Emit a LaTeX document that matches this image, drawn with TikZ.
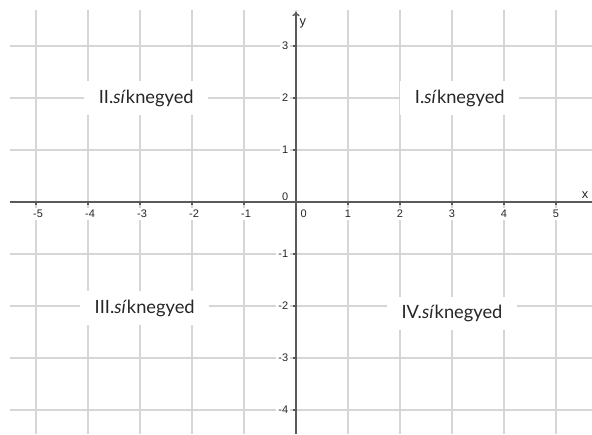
\documentclass[tikz,border=0pt]{standalone}
\usepackage{fontspec}
\setmainfont{Lato}
\newfontfamily\tickfont{Liberation Sans}
\usetikzlibrary{arrows.meta}
\definecolor{gridgray}{HTML}{D6D6D6}
\definecolor{axisgray}{HTML}{5A5A5A}
\tikzset{
  gridline/.style={line width=0.6pt, gridgray},
  axisline/.style={line width=0.8pt, axisgray},
  ticklabel/.style={font=\tickfont\fontsize{6}{7}\selectfont, text=black!85, fill=white, inner sep=1.2pt},
  quadlabel/.style={font=\fontsize{10}{12}\selectfont, text=black!85, fill=white, inner xsep=8pt, inner ysep=4.5pt}
}
\begin{document}
\begin{tikzpicture}
 \useasboundingbox (-5.692,-4.462) rectangle (5.692,3.885);
 \fill[white] (-5.692,-4.462) rectangle (5.692,3.885);

 % grid
 \draw[gridline] (-5.5,-4.47) grid (5.7,3.7);

 % quadrant names
 \node[quadlabel] (q1) at (3.15,2)   {I.\textit{sí}knegyed};
 \node[quadlabel] (q2) at (-2.88,2)  {II.\textit{sí}knegyed};
 \node[quadlabel] (q3) at (-2.91,-2.04) {III.\textit{sí}knegyed};
 \node[quadlabel] (q4) at (3.0,-2.15) {IV.\textit{sí}knegyed};

 % tick labels on x
 \node[ticklabel, anchor=north] (xm5) at (-4.96,-0.1) {-5};
 \node[ticklabel, anchor=north] (xm4) at (-3.96,-0.1) {-4};
 \node[ticklabel, anchor=north] (xm3) at (-2.96,-0.1) {-3};
 \node[ticklabel, anchor=north] (xm2) at (-1.96,-0.1) {-2};
 \node[ticklabel, anchor=north] (xm1) at (-0.96,-0.1) {-1};
 \node[ticklabel, anchor=north] (x0) at (0.15,-0.1) {0};
 \node[ticklabel, anchor=north] (x1) at (1,-0.1) {1};
 \node[ticklabel, anchor=north] (x2) at (2,-0.1) {2};
 \node[ticklabel, anchor=north] (x3) at (3,-0.1) {3};
 \node[ticklabel, anchor=north] (x4) at (4,-0.1) {4};
 \node[ticklabel, anchor=north] (x5) at (5,-0.1) {5};

 % tick labels on y
 \node[ticklabel, anchor=east] (y3) at (-0.1,3) {3};
 \node[ticklabel, anchor=east] (y2) at (-0.1,2) {2};
 \node[ticklabel, anchor=east] (y1) at (-0.1,1) {1};
 \node[ticklabel, anchor=east] (y0) at (-0.1,0.11) {0};
 \node[ticklabel, anchor=east] (ym1) at (-0.1,-1) {-1};
 \node[ticklabel, anchor=east] (ym2) at (-0.1,-2) {-2};
 \node[ticklabel, anchor=east] (ym3) at (-0.1,-3) {-3};
 \node[ticklabel, anchor=east] (ym4) at (-0.1,-4) {-4};

 % axes
 \coordinate (xstart) at (-5.5,0);
 \coordinate (xend) at (5.692,0);
 \coordinate (ystart) at (0,-4.462);
 \coordinate (yend) at (0,3.66);
 \draw[axisline] (xstart) -- (xend);
 \draw[axisline, -{To[length=2.5pt,width=4pt]}] (ystart) -- (yend);
 \draw[axisline, line width=0.6pt] (-5,0) -- (-5,-0.06) (-4,0) -- (-4,-0.06) (-3,0) -- (-3,-0.06)
   (-2,0) -- (-2,-0.06) (-1,0) -- (-1,-0.06) (1,0) -- (1,-0.06) (2,0) -- (2,-0.06)
   (3,0) -- (3,-0.06) (4,0) -- (4,-0.06) (5,0) -- (5,-0.06);
 \draw[axisline, line width=0.6pt] (0,3) -- (-0.06,3) (0,2) -- (-0.06,2) (0,1) -- (-0.06,1)
   (0,-1) -- (-0.06,-1) (0,-2) -- (-0.06,-2) (0,-3) -- (-0.06,-3) (0,-4) -- (-0.06,-4);

 \node[ticklabel, fill=none, font=\tickfont\fontsize{7}{8}\selectfont] (xname) at (5.56,0.13) {x};
 \node[ticklabel, fill=none, font=\tickfont\fontsize{7}{8}\selectfont] (yname) at (0.13,3.44) {y};
\end{tikzpicture}
\end{document}
